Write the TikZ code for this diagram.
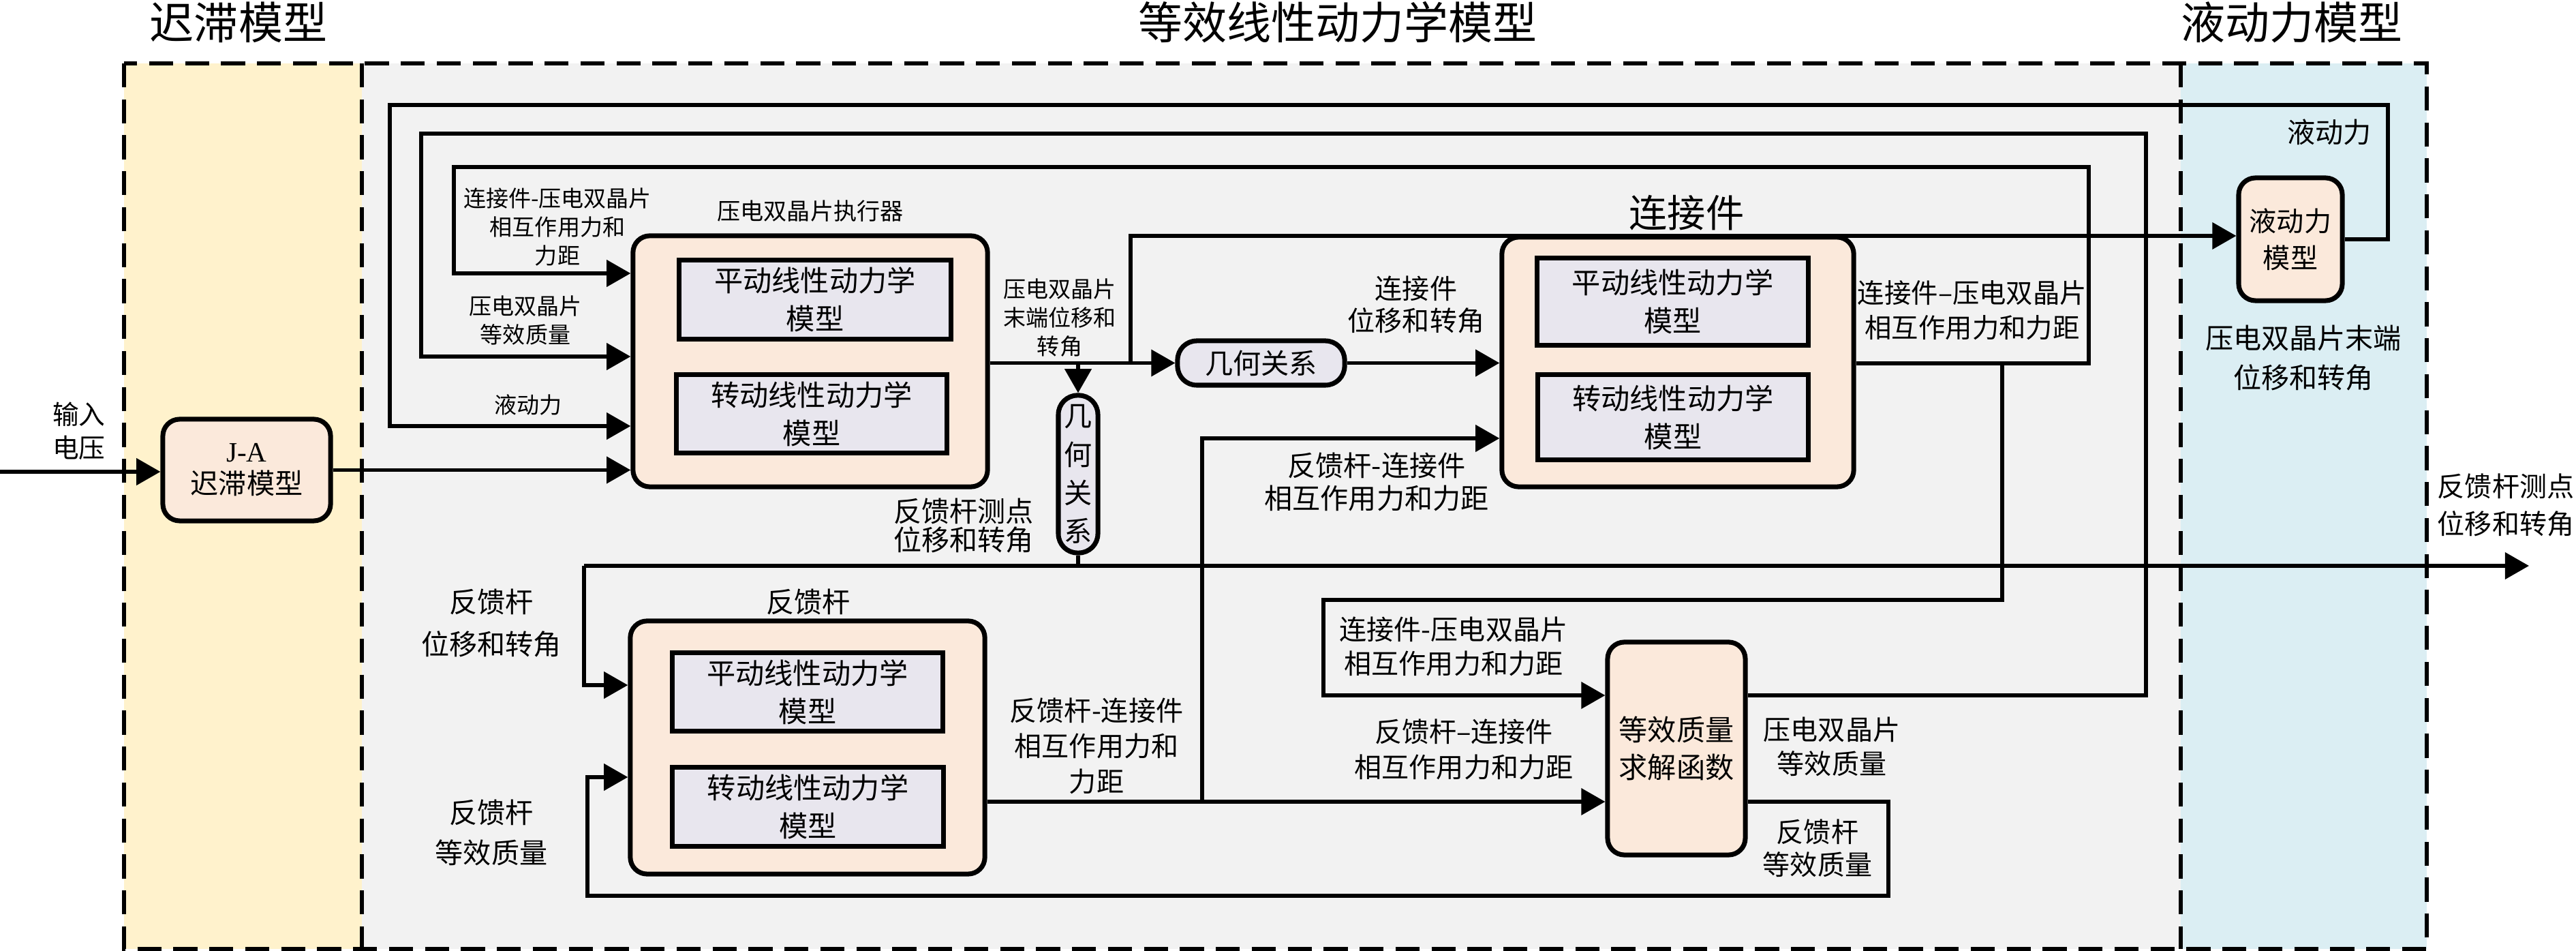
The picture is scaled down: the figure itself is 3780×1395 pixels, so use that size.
\documentclass[tikz,border=0pt]{standalone}
\usepackage{fontspec}
\setmainfont{Noto Sans CJK SC}
\newfontfamily\latserif{Liberation Serif}
\usetikzlibrary{arrows.meta}
\definecolor{panelY}{HTML}{FFF2CC}
\definecolor{panelG}{HTML}{F2F2F2}
\definecolor{panelB}{HTML}{DBEEF3}
\definecolor{peach}{HTML}{FBE9DB}
\definecolor{lav}{HTML}{E8E6EE}
\newcommand\fsz[2]{\fontsize{#1}{#2}\selectfont}
\begin{document}
\begin{tikzpicture}[x=0.01cm,y=-0.01cm,
  panel/.style={line width=1.5pt, dash pattern=on 10pt off 5pt},
  obox/.style={draw, line width=2pt, fill=peach, rounded corners=7pt, inner sep=0pt},
  ibox/.style={draw, line width=2pt, fill=lav, inner sep=0pt, align=center, font=\fsz{12}{16}},
  sbox/.style={draw, line width=2pt, fill=lav, rounded corners=8pt, inner sep=0pt, align=center, font=\fsz{11.7}{16}},
  conn/.style={line width=1.5pt},
  arr/.style={conn, -{Triangle[length=10pt,width=11pt]}},
  lbl/.style={align=center, inner sep=0pt, font=\fsz{11.7}{15}},
  slbl/.style={align=center, inner sep=0pt, font=\fsz{9.4}{12}},
  ttl/.style={inner sep=0pt, font=\fsz{18.5}{22}},
]
\useasboundingbox (0,0) rectangle (3780,1395);
% panels
\fill[panelY] (182,93) rectangle (531,1392);
\fill[panelG] (531,93) rectangle (3200,1392);
\fill[panelB] (3200,93) rectangle (3561,1392);
\draw[panel] (182,93) rectangle (3561,1392);
\draw[panel] (531,93) -- (531,1392);
\draw[panel] (3200,93) -- (3200,1392);
\node[ttl] (t1) at (350,33) {迟滞模型};
\node[ttl] (t2) at (1963,33) {等效线性动力学模型};
\node[ttl] (t3) at (3363,33) {液动力模型};

% boxes
\node[obox, minimum width=2.46cm, minimum height=1.49cm, align=center, font=\fsz{11.7}{13.4}] (ja) at (362,689.5) {{\latserif J-A}\\迟滞模型};
\node[obox, minimum width=5.20cm, minimum height=3.68cm] (pz) at (1189,530) {};
\node[ibox, minimum width=3.98cm, minimum height=1.15cm] (pzT) at (1196,439.5) {平动线性动力学\\模型};
\node[ibox, minimum width=3.96cm, minimum height=1.14cm] (pzR) at (1191,607) {转动线性动力学\\模型};
\node[slbl, font=\fsz{9.7}{12}] (pzl) at (1189,310) {压电双晶片执行器};

\node[obox, minimum width=5.16cm, minimum height=3.66cm] (cn) at (2462,531) {};
\node[ibox, minimum width=3.97cm, minimum height=1.27cm] (cnT) at (2454.5,442.5) {平动线性动力学\\模型};
\node[ibox, minimum width=3.96cm, minimum height=1.24cm] (cnR) at (2455,612) {转动线性动力学\\模型};
\node[inner sep=0pt, font=\fsz{16}{18}] (cnl) at (2475,312) {连接件};

\node[obox, minimum width=1.52cm, minimum height=1.80cm, align=center, font=\fsz{11.4}{15.4}] (hy) at (3361,351) {液动力\\模型};

\node[sbox, minimum width=2.45cm, minimum height=0.65cm] (geoH) at (1850.5,532.5) {几何关系};
\node[sbox, minimum width=0.58cm, minimum height=2.31cm] (geoV) at (1582,695.5) {几\\何\\关\\系};

\node[obox, minimum width=5.20cm, minimum height=3.71cm] (fb) at (1185,1096.5) {};
\node[ibox, minimum width=3.96cm, minimum height=1.14cm] (fbT) at (1185,1015) {平动线性动力学\\模型};
\node[ibox, minimum width=3.97cm, minimum height=1.15cm] (fbR) at (1185.5,1183.5) {转动线性动力学\\模型};
\node[lbl] (fbl) at (1186,883) {反馈杆};

\node[obox, minimum width=2.02cm, minimum height=3.12cm, align=center, font=\fsz{12}{15.6}] (eq) at (2460,1098) {等效质量\\求解函数};

% coordinates
\coordinate (inp) at (0,692);
\coordinate (cnj) at (2938,533);
\coordinate (j1) at (1582,532.5);
\coordinate (j2) at (1659,532.5);
\coordinate (m1) at (857,830);
\coordinate (outfb) at (3711,830);
\coordinate (j3) at (1764,1176);

% connectors
\draw[arr] (inp) -- (ja.west |- inp);
\draw[arr] (ja.east) -- (pz.west |- ja.east);
\draw[arr] (hy.east) -| (3504,154) -| (572,625) -- (pz.west |- 0,625);
\draw[arr] (eq.east |- 0,1020) -| (3149,196) -| (618,523) -- (pz.west |- 0,523);
\draw[arr] (cn.east |- 0,533) -| (3065,245) -| (666,401) -- (pz.west |- 0,401);
\draw[arr] (cnj) |- (1942,880) |- (eq.west |- 0,1020);
\draw[arr] (pz.east |- geoH.west) -- (geoH.west);
\draw[arr] (j1) -- (geoV.north);
\draw[arr] (j2) |- (hy.west |- 0,346);
\draw[arr] (geoH.east) -- (cn.west |- geoH.east);
\draw[conn] (geoV.south) -- (geoV.south |- m1);
\draw[arr] (m1) -- (outfb);
\draw[arr] (m1) |- (fb.west |- 0,1005);
\draw[arr] (fb.east |- j3) -- (eq.west |- j3);
\draw[arr] (j3) |- (cn.west |- 0,643);
\draw[arr] (eq.east |- j3) -| (2771,1314) -| (862,1140) -- (fb.west |- 0,1140);

% labels
\node[lbl, font=\fsz{11}{14}] (l0) at (116,632) {输入\\电压};
\node[slbl] (l1) at (818,333) {连接件-压电双晶片\\相互作用力和\\力距};
\node[slbl] (l2) at (771,470) {压电双晶片\\等效质量};
\node[slbl] (l3) at (775,594) {液动力};
\node[slbl] (l4) at (1555,466) {压电双晶片\\末端位移和\\转角};
\node[lbl, font=\fsz{11.4}{13.4}] (l5) at (2078,447) {连接件\\位移和转角};
\node[lbl, font=\fsz{11.2}{14.5}] (l6) at (2894,455) {连接件–压电双晶片\\相互作用力和力距};
\node[lbl] (l7) at (3418,194) {液动力};
\node[lbl, font=\fsz{11.7}{16.5}] (l8) at (3380,525) {压电双晶片末端\\位移和转角};
\node[lbl, font=\fsz{11.7}{12}] (l9) at (1414,771) {反馈杆测点\\位移和转角};
\node[lbl, font=\fsz{11.7}{13.7}] (l10) at (2020,707) {反馈杆-连接件\\相互作用力和力距};
\node[lbl, font=\fsz{11.7}{17.6}] (l11) at (721,914) {反馈杆\\位移和转角};
\node[lbl, font=\fsz{11.7}{16.8}] (l12) at (721,1221) {反馈杆\\等效质量};
\node[lbl, font=\fsz{11.4}{14.8}] (l13) at (1609,1094) {反馈杆-连接件\\相互作用力和\\力距};
\node[lbl, font=\fsz{11.4}{14.2}] (l14) at (2133,948) {连接件-压电双晶片\\相互作用力和力距};
\node[lbl, font=\fsz{11.4}{14.8}] (l15) at (2148,1099) {反馈杆–连接件\\相互作用力和力距};
\node[lbl, font=\fsz{11.4}{14.2}] (l16) at (2688,1095) {压电双晶片\\等效质量};
\node[lbl, font=\fsz{11.4}{13.7}] (l17) at (2667,1244) {反馈杆\\等效质量};
\node[lbl, font=\fsz{11.4}{15.6}, anchor=east] (l18) at (3778,741) {反馈杆测点\\位移和转角};
\end{tikzpicture}
\end{document}
